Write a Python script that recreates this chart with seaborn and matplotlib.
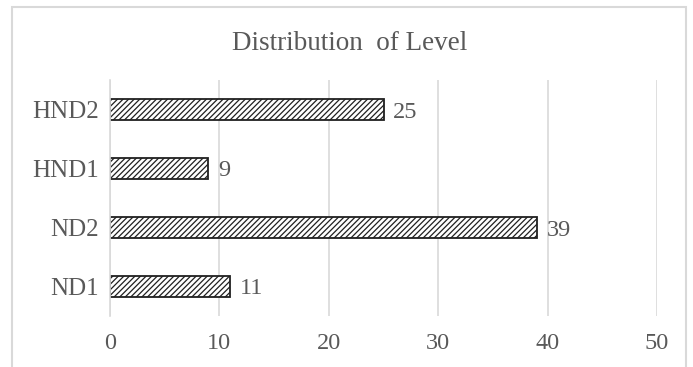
import matplotlib
matplotlib.use("Agg")
import matplotlib.pyplot as plt
import seaborn as sns
import pandas as pd
from matplotlib.patches import Rectangle

levels = ["HND2", "HND1", "ND2", "ND1"]
counts = [25, 9, 39, 11]
x_ticks = [0, 10, 20, 30, 40, 50]

sns.set_theme(style="white")
plt.rcParams["font.family"] = ["Liberation Serif", "DejaVu Serif"]
plt.rcParams["hatch.linewidth"] = 0.9
plt.rcParams["hatch.color"] = "#333333"

text_color = "#595959"
grid_color = "#D9D9D9"

df = pd.DataFrame({"Level": levels, "Count": counts})

fig = plt.figure(figsize=(6.93, 3.67), dpi=100)
ax = fig.add_axes([110 / 693, 1 - 316 / 367, (657 - 110) / 693, (316 - 80) / 367])

sns.barplot(data=df, x="Count", y="Level", order=levels, orient="h",
            color="white", edgecolor="#202020", linewidth=1.3,
            width=0.34, ax=ax)
for patch in ax.patches:
    patch.set_hatch("//////")

ax.set_xlim(0, 50)
ax.set_xticks(x_ticks)
ax.set_xticklabels([str(t) for t in x_ticks])
ax.set_xlabel("")
ax.set_ylabel("")

ax.grid(axis="x", color=grid_color, linewidth=1.2)
ax.set_axisbelow(True)
for side in ["top", "right", "bottom"]:
    ax.spines[side].set_visible(False)
ax.spines["left"].set_color(grid_color)
ax.spines["left"].set_linewidth(1.2)

ax.tick_params(axis="x", length=0, pad=12, labelsize=17.5, labelcolor=text_color)
ax.tick_params(axis="y", length=0, pad=8, labelsize=18, labelcolor=text_color)

for container in ax.containers:
    texts = ax.bar_label(container, labels=[str(v) for v in counts], padding=7,
                         fontsize=17.5, color=text_color)
    for t in texts:
        t.set_verticalalignment("center_baseline")

fig.text(0.505, 1 - 41 / 367, "Distribution  of Level", ha="center",
         va="center_baseline", fontsize=19.5, color=text_color)

fig.patches.append(Rectangle((12.5 / 693, -0.05), (686 - 12.5) / 693, 1.05 - 6.5 / 367,
                             transform=fig.transFigure, fill=False,
                             edgecolor=grid_color, linewidth=1.5))

fig.savefig("out.png", dpi=100)
